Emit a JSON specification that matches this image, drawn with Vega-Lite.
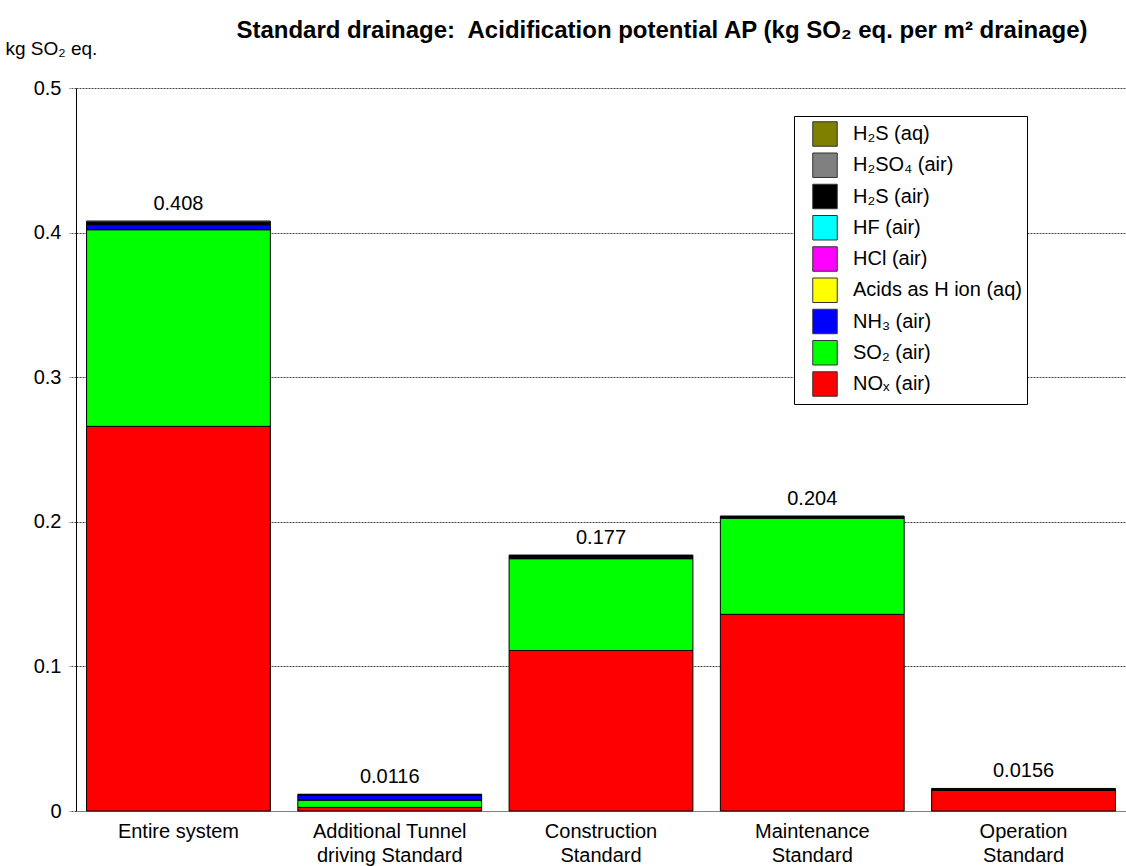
{
  "$schema": "https://vega.github.io/schema/vega-lite/v6.json",
  "width": 1050,
  "height": 723,
  "autosize": "none",
  "padding": {"left": 76, "top": 88, "right": 0, "bottom": 55},
  "background": "white",
  "config": {"font": "Liberation Sans", "view": {"stroke": null}},
  "title": {
    "text": "Standard drainage:\u00a0 Acidification potential AP (kg SO₂ eq. per m² drainage)",
    "fontSize": 24,
    "fontWeight": "bold",
    "color": "black",
    "anchor": "middle",
    "frame": "group",
    "offset": -4,
    "dx": 61
  },
  "data": {
    "values": [
      {"cat": "Entire system", "sub": "NOₓ (air)", "k": 0, "v": 0.266},
      {"cat": "Entire system", "sub": "SO₂ (air)", "k": 1, "v": 0.136},
      {"cat": "Entire system", "sub": "NH₃ (air)", "k": 2, "v": 0.0035},
      {"cat": "Entire system", "sub": "H₂S (air)", "k": 6, "v": 0.0015},
      {"cat": "Entire system", "sub": "H₂S (aq)", "k": 8, "v": 0.001},
      {"cat": "Additional Tunnel driving Standard", "sub": "NOₓ (air)", "k": 0, "v": 0.0025},
      {"cat": "Additional Tunnel driving Standard", "sub": "SO₂ (air)", "k": 1, "v": 0.005},
      {"cat": "Additional Tunnel driving Standard", "sub": "NH₃ (air)", "k": 2, "v": 0.0035},
      {"cat": "Additional Tunnel driving Standard", "sub": "H₂S (air)", "k": 6, "v": 0.0006},
      {"cat": "Construction Standard", "sub": "NOₓ (air)", "k": 0, "v": 0.111},
      {"cat": "Construction Standard", "sub": "SO₂ (air)", "k": 1, "v": 0.0635},
      {"cat": "Construction Standard", "sub": "H₂S (air)", "k": 6, "v": 0.0025},
      {"cat": "Maintenance Standard", "sub": "NOₓ (air)", "k": 0, "v": 0.136},
      {"cat": "Maintenance Standard", "sub": "SO₂ (air)", "k": 1, "v": 0.0665},
      {"cat": "Maintenance Standard", "sub": "H₂S (air)", "k": 6, "v": 0.0015},
      {"cat": "Operation Standard", "sub": "NOₓ (air)", "k": 0, "v": 0.0142},
      {"cat": "Operation Standard", "sub": "SO₂ (air)", "k": 1, "v": 0.0003},
      {"cat": "Operation Standard", "sub": "H₂S (air)", "k": 6, "v": 0.0011}
    ]
  },
  "encoding": {
    "x": {
      "field": "cat",
      "type": "nominal",
      "sort": null,
      "scale": {"paddingInner": 0.13, "paddingOuter": 0.05},
      "axis": {
        "title": null,
        "labelAngle": 0,
        "labelFontSize": 20,
        "labelColor": "black",
        "labelPadding": 10,
        "labelLineHeight": 24,
        "ticks": false,
        "domainColor": "#808080",
        "labelExpr": "datum.label == 'Additional Tunnel driving Standard' ? ['Additional Tunnel','driving Standard'] : datum.label == 'Construction Standard' ? ['Construction','Standard'] : datum.label == 'Maintenance Standard' ? ['Maintenance','Standard'] : datum.label == 'Operation Standard' ? ['Operation','Standard'] : datum.label"
      }
    }
  },
  "layer": [
    {
      "mark": {"type": "bar", "stroke": "black", "strokeWidth": 1},
      "encoding": {
        "y": {
          "field": "v",
          "type": "quantitative",
          "aggregate": "sum",
          "stack": "zero",
          "scale": {"domain": [0, 0.5], "nice": false},
          "axis": {
            "title": "kg SO₂ eq.",
            "titleAngle": 0,
            "titleAlign": "left",
            "titleBaseline": "middle",
            "titleX": -71,
            "titleY": -40,
            "titleFontSize": 19,
            "titleFontWeight": "normal",
            "titleColor": "black",
            "values": [0, 0.1, 0.2, 0.3, 0.4, 0.5],
            "format": ".1~f",
            "labelFontSize": 20,
            "labelColor": "black",
            "labelPadding": 8,
            "domainColor": "black",
            "tickSize": 7,
            "tickColor": "#555555",
            "tickDash": [2, 1],
            "grid": true,
            "gridColor": "#444444",
            "gridDash": [2, 1],
            "gridWidth": 1
          }
        },
        "color": {
          "field": "sub",
          "type": "nominal",
          "scale": {
            "domain": ["H₂S (aq)", "H₂SO₄ (air)", "H₂S (air)", "HF (air)", "HCl (air)", "Acids as H ion (aq)", "NH₃ (air)", "SO₂ (air)", "NOₓ (air)"],
            "range": ["#808000", "#808080", "#000000", "#00FFFF", "#FF00FF", "#FFFF00", "#0000FF", "#00FF00", "#FF0000"]
          },
          "legend": {
            "title": null,
            "orient": "none",
            "legendX": 718,
            "legendY": 28,
            "strokeColor": "black",
            "fillColor": "white",
            "padding": 5,
            "symbolType": "square",
            "symbolSize": 600,
            "symbolStrokeColor": "#333333",
            "symbolStrokeWidth": 1,
            "symbolOpacity": 1,
            "symbolOffset": 13,
            "labelFontSize": 20,
            "labelColor": "black",
            "labelOffset": 15,
            "labelLimit": 400,
            "rowPadding": 1.25
          }
        },
        "order": {"field": "k", "type": "quantitative", "sort": "ascending"}
      }
    },
    {
      "mark": {"type": "text", "fontSize": 20, "color": "black", "baseline": "alphabetic", "dy": -11},
      "encoding": {
        "y": {"field": "v", "type": "quantitative", "aggregate": "sum"},
        "text": {"field": "v", "type": "quantitative", "aggregate": "sum", "format": ".3~g"}
      }
    }
  ]
}
